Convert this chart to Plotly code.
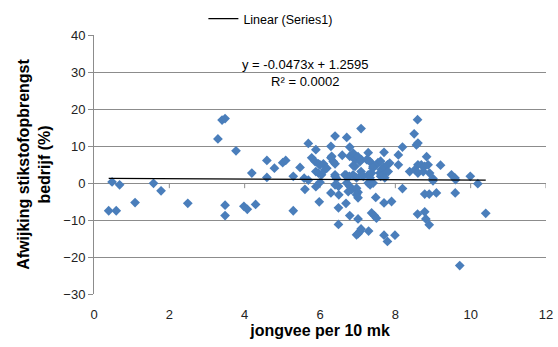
import plotly.graph_objects as go

x_vals = [0.39, 0.59, 0.48, 0.68, 1.09, 1.58, 1.78, 2.49,
          3.29, 3.40, 3.48, 3.77, 3.48, 3.48, 3.98, 4.07, 4.29,
          4.19, 4.59, 4.59, 4.79, 5.01, 5.09, 5.29, 5.29, 5.47,
          5.58, 5.69, 5.60, 5.69, 5.89, 5.78, 5.87, 5.96, 6.00, 6.09,
          5.89, 5.96, 6.04, 5.89, 5.98, 6.00, 6.13, 6.18,
          6.29, 6.29, 6.35, 6.40, 6.31, 6.40, 6.71, 7.09,
          6.59, 6.79, 6.79, 6.88, 6.93, 7.01, 7.06, 7.10, 6.88, 6.93, 7.24,
          6.40, 6.40, 6.44, 6.66, 6.69, 6.78, 6.88, 6.97, 7.09, 7.10, 7.15, 7.31,
          6.40, 6.49, 6.71, 6.79, 6.84, 6.75, 6.97, 7.01, 6.97, 7.01,
          6.29, 6.50, 6.69, 6.49,
          6.79, 7.01, 6.49, 7.06, 7.01, 6.97, 7.09, 7.29,
          7.28, 7.28, 7.33, 7.41, 7.50, 7.54, 7.61, 7.70,
          7.28, 7.33, 7.37, 7.40,
          7.59, 7.63, 7.70, 7.79, 7.85, 7.68, 7.61, 7.72, 7.81,
          7.28, 7.33, 7.41,
          7.48, 7.70, 7.90,
          7.37, 7.44, 7.50,
          7.70, 7.79, 7.99,
          8.08, 8.19, 8.08, 8.19,
          8.50, 8.59, 8.56, 8.60, 8.83,
          8.60, 8.69, 8.78, 8.87, 8.38, 8.52, 8.60, 8.74, 8.91,
          9.00, 9.00, 9.20,
          8.78, 8.90, 9.09,
          8.59, 8.78, 8.81, 8.90,
          9.49, 9.58, 9.60, 9.99, 10.19, 9.59, 10.40, 9.71]

y_vals = [-7.5, -7.5, 0.3, -0.5, -5.3, -0.1, -2.1, -5.5,
          11.9, 17.0, 17.4, 8.7, -6.0, -8.8, -6.3, -7.1, -5.8,
          2.7, 6.1, 1.5, 4.0, 5.5, 6.1, -7.5, 1.8, 4.2,
          1.3, 0.8, -1.7, 10.7, 9.0, 6.8, 5.8, 5.2, 4.9, 5.2,
          3.1, 2.7, 2.2, -1.0, -5.1, 0.2, 3.6, 4.0,
          9.9, 6.8, 5.8, 5.2, 7.2, 12.7, 12.3, 14.7,
          7.5, 9.7, 7.2, 8.1, 6.3, 7.1, 5.8, 6.3, 4.7, 4.5, 6.3,
          2.2, 1.8, 1.2, 2.2, 2.2, 1.8, 2.2, 1.4, 3.1, 2.2, 1.8, 2.2,
          -0.5, -0.9, 0.0, -0.9, -1.8, -2.3, -1.4, -2.5, -3.2, -4.0,
          -2.7, -3.2, -5.5, -6.7,
          -8.8, -9.7, -11.2, -13.1, -13.7, -14.0, -12.4, -13.0,
          8.2, 6.2, 5.8, 4.5, 4.9, 5.5, 5.9, 8.3,
          2.2, 1.4, 2.7, 4.0,
          2.7, 3.6, 4.3, 4.9, 5.4, 2.2, 1.8, 1.4, 3.1,
          0.0, -0.5, 0.0,
          -3.9, -5.4, -5.0,
          -8.1, -8.8, -9.5,
          -14.1, -15.8, -14.1,
          7.6, 9.7, 4.9, -1.5,
          13.3, 17.1, 10.3, 10.8, 7.1,
          4.9, 4.9, 4.5, 4.9, 3.1, 3.6, 2.7, 3.1, 2.7,
          1.2, 0.6, 4.8,
          -3.0, -3.0, -2.7,
          -8.4, -7.8, -9.7, -11.3,
          2.2, 1.4, 0.9, 1.8, -0.2, -2.7, -8.2, -22.3]

slope = -0.0473
intercept = 1.2595
x_ticks = [0, 2, 4, 6, 8, 10, 12]
y_ticks = [-30, -20, -10, 0, 10, 20, 30, 40]

trend_x = [min(x_vals), max(x_vals)]
trend_y = [slope * v + intercept for v in trend_x]

grid = "#8c8c8c"
fig = go.Figure()
fig.add_trace(go.Scatter(
    x=x_vals, y=y_vals, mode="markers", name="Series1", showlegend=False,
    marker=dict(symbol="diamond", size=7.5, color="#4A7EBB", line=dict(width=0)),
))
fig.add_trace(go.Scatter(
    x=trend_x, y=trend_y, mode="lines", name="Linear (Series1)",
    line=dict(color="black", width=1.3), showlegend=True,
))

# x-axis tick marks sit on the y = 0 line (Excel style)
for t in x_ticks[1:]:
    fig.add_shape(type="line", xref="x", yref="y", x0=t, x1=t, y0=0, y1=-1.4,
                  line=dict(color=grid, width=1), layer="below")

fig.add_annotation(
    xref="paper", yref="paper", x=0.467, y=0.854, xanchor="center", yanchor="middle",
    text="y = -0.0473x + 1.2595<br>R² = 0.0002", showarrow=False, align="center",
    font=dict(family="Liberation Sans, Arial", size=13, color="black"),
)

fig.update_layout(
    width=558, height=347,
    margin=dict(l=93.5, r=11.5, t=35.3, b=52.7, autoexpand=False),
    paper_bgcolor="white", plot_bgcolor="white",
    font=dict(family="Liberation Sans, Arial", size=13, color="black"),
    showlegend=True,
    legend=dict(orientation="h", x=0.242, xanchor="left", xref="paper",
                y=0.945, yref="container", yanchor="middle",
                font=dict(size=12.5), bgcolor="rgba(0,0,0,0)", itemwidth=30),
    xaxis=dict(range=[0, 12], tickvals=x_ticks, showgrid=False, zeroline=False,
               showline=False, ticks="outside", ticklen=8, tickcolor="rgba(0,0,0,0)",
               tickfont=dict(size=13, color="#222"),
               title=dict(text="<b>jongvee per 10 mk</b>", font=dict(size=16), standoff=2)),
    yaxis=dict(range=[-30, 40], tickvals=y_ticks, showgrid=True, gridcolor=grid,
               gridwidth=1, zeroline=True, zerolinecolor=grid, zerolinewidth=1,
               showline=True, linecolor=grid, linewidth=1, ticks="outside",
               ticklen=5, tickcolor=grid, tickfont=dict(size=13, color="#222"),
               title=dict(text="<b>Afwijking stikstofopbrengst<br>bedrijf (%)</b>",
                          font=dict(size=16), standoff=8)),
)

fig.write_html("out.html")
